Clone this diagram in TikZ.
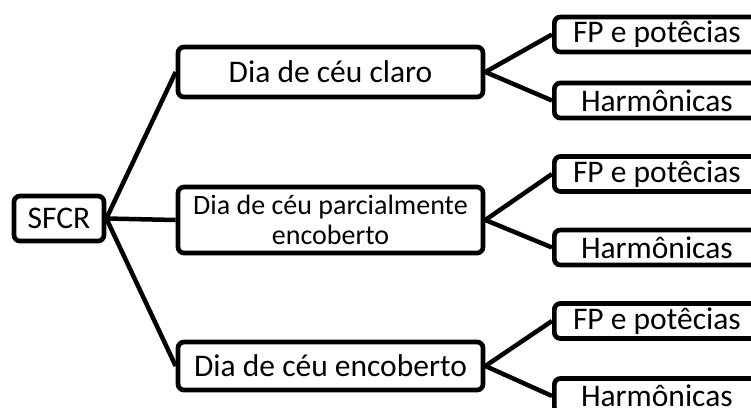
\documentclass[tikz,border=0pt]{standalone}
\usepackage{fontspec}
\setmainfont{Carlito}
\begin{document}
\begin{tikzpicture}[x=1pt,y=-1pt,
  box/.style={draw=black, line width=4.7pt, rounded corners=6pt, fill=white,
    inner sep=0pt, align=center, font=\fontsize{31.5}{34}\selectfont},
  midbox/.style={box, minimum width=305pt},
  rightbox/.style={box, minimum width=205pt, minimum height=35pt, anchor=west},
  link/.style={draw=black, line width=4.5pt}
]
\useasboundingbox (0,0) rectangle (751,407);

\node[box, minimum width=90pt, minimum height=45pt] (sfcr) at (59,218.5) {SFCR};

\node[midbox, minimum height=50pt] (claro) at (330.5,72) {Dia de céu claro};
\node[midbox, minimum height=66pt, font=\fontsize{28}{30}\selectfont] (parc) at (330.5,220) {Dia de céu parcialmente\\encoberto};
\node[midbox, minimum height=48pt] (enc) at (330.5,366) {Dia de céu encoberto};

\node[rightbox] (fp1) at (552,34.5) {FP e potêcias};
\node[rightbox] (h1) at (552,100.5) {Harmônicas};
\node[rightbox] (fp2) at (552,174) {FP e potêcias};
\node[rightbox] (h2) at (552,247.5) {Harmônicas};
\node[rightbox] (fp3) at (552,321) {FP e potêcias};
\node[rightbox] (h3) at (552,396) {Harmônicas};

\draw[link] (sfcr.east) -- (claro.west);
\draw[link] (sfcr.east) -- (parc.west);
\draw[link] (sfcr.east) -- (enc.west);
\draw[link] (claro.east) -- (fp1.west);
\draw[link] (claro.east) -- (h1.west);
\draw[link] (parc.east) -- (fp2.west);
\draw[link] (parc.east) -- (h2.west);
\draw[link] (enc.east) -- (fp3.west);
\draw[link] (enc.east) -- (h3.west);
\end{tikzpicture}
\end{document}
